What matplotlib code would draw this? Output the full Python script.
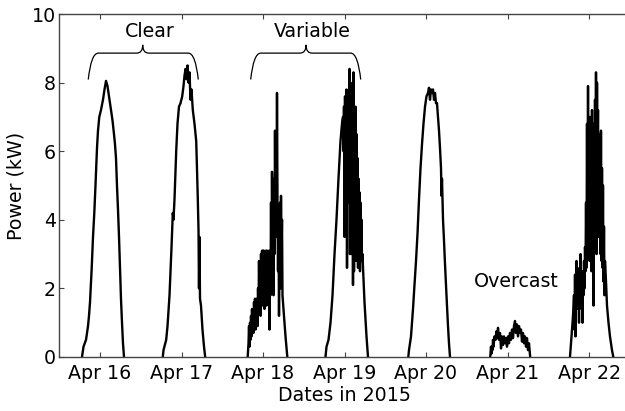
import matplotlib
matplotlib.use("Agg")
import matplotlib.pyplot as plt
from matplotlib.path import Path
from matplotlib.patches import PathPatch

# Tick labels (one per day)
day_labels = ["Apr 16", "Apr 17", "Apr 18", "Apr 19", "Apr 20", "Apr 21", "Apr 22"]

# Power readings per day: hours relative to midnight, power in kW
apr16_h = [-5.30, -4.86, -4.12, -3.53, -3.24, -2.94, -2.44, -2.06, -1.68, -1.33, -0.88, -0.59,
           -0.21, 0.29, 0.88, 1.33, 1.77, 2.21, 2.65, 3.24, 3.68, 4.12, 4.42, 4.71, 5.00, 5.30,
           5.60, 5.89, 6.18, 6.48, 6.77, 7.07]
apr16_kw = [0, 0.3, 0.5, 0.9, 1.2, 1.6, 2.6, 3.5, 4.2, 5.0, 6.1, 6.6,
            7.0, 7.2, 7.5, 7.8, 8.05, 7.9, 7.6, 7.2, 6.9, 6.5, 6.2, 5.8, 5.0, 4.3,
            3.5, 2.6, 1.7, 1.0, 0.4, 0]

apr17_h = [-5.51, -5.30, -4.51, -4.12, -3.53, -2.94, -2.56, -2.36, -2.06, -1.56, -1.18, -0.74,
           -0.29, 0.21, 0.59, 0.88, 1.18, 1.47, 1.77, 2.06, 2.36, 2.65, 2.94, 3.33, 3.83, 4.33,
           4.56, 4.80, 5.01, 5.15, 5.30, 5.45, 5.74, 6.18, 6.63, 6.98]
apr17_kw = [0, 0.2, 0.5, 0.9, 1.8, 3.2, 4.2, 4.0, 4.6, 6.0, 6.8, 7.3,
            7.4, 7.6, 7.9, 8.2, 8.4, 8.1, 8.5, 8.0, 8.3, 7.5, 7.8, 7.2, 6.8, 6.3,
            5.5, 4.6, 3.7, 2.0, 3.5, 1.7, 1.5, 0.8, 0.3, 0]

apr18_h = [-4.51, -4.27, -4.12, -3.98, -3.83, -3.68, -3.53, -3.39, -3.24, -3.09, -2.94, -2.80,
           -2.65, -2.50, -2.36, -2.21, -2.06, -1.91, -1.77, -1.62, -1.47, -1.33, -1.18, -1.03,
           -0.88, -0.74, -0.59, -0.44, -0.29, -0.15, 0.00, 0.15, 0.29, 0.44, 0.59, 0.74, 0.88,
           1.03, 1.18, 1.33, 1.47, 1.62, 1.77, 1.91, 2.06, 2.21, 2.36, 2.50, 2.65, 2.80, 2.94,
           3.09, 3.24, 3.39, 3.53, 3.68, 3.83, 3.98, 4.12, 4.27, 4.42, 4.56, 4.71, 4.86, 5.01,
           5.15, 5.30, 5.45, 5.60, 5.74, 6.18, 6.63, 7.16]
apr18_kw = [0, 0.4, 0.9, 0.3, 1.0, 0.5, 1.2, 0.6, 1.4, 0.8, 1.3, 0.7,
            1.6, 1.0, 1.7, 0.8, 1.5, 1.1, 1.7, 0.9, 2.0, 1.3, 2.8, 1.6,
            2.5, 1.2, 3.0, 2.0, 3.1, 1.5, 3.1, 2.2, 3.1, 1.4, 3.0, 2.4, 3.1,
            1.5, 3.1, 2.0, 2.9, 1.6, 3.1, 0.8, 2.5, 1.8, 4.5, 2.0, 5.4, 3.0, 5.2,
            1.8, 5.0, 3.0, 6.6, 4.0, 6.2, 3.5, 7.7, 4.5, 2.5, 4.2, 1.2, 3.0, 4.5,
            2.0, 4.7, 3.0, 4.0, 1.8, 1.2, 0.6, 0]

apr19_h = [-5.60, -5.30, -4.71, -4.12, -3.53, -2.94, -2.36, -1.77, -1.18, -0.74, -0.44, -0.29,
           -0.15, 0.00, 0.15, 0.29, 0.44, 0.59, 0.74, 0.88, 1.03, 1.18, 1.33, 1.47, 1.62, 1.77,
           1.91, 2.06, 2.21, 2.36, 2.50, 2.65, 2.80, 2.94, 3.09, 3.24, 3.39, 3.53, 3.68, 3.83,
           3.98, 4.12, 4.27, 4.42, 4.56, 4.71, 4.86, 5.01, 5.15, 5.30, 5.45, 5.89, 6.48, 6.92]
apr19_kw = [0, 0.3, 0.5, 1.0, 1.8, 3.0, 4.0, 5.2, 6.3, 6.8, 7.0, 6.0,
            7.3, 3.5, 7.6, 5.0, 7.4, 7.8, 2.6, 7.5, 5.5, 7.7, 4.5, 8.4, 3.0, 8.0,
            6.0, 7.6, 3.0, 7.9, 2.1, 8.3, 2.5, 7.0, 4.0, 7.3, 2.8, 6.5, 3.5, 5.8,
            2.6, 5.2, 3.0, 4.8, 2.5, 4.5, 3.2, 4.0, 2.8, 3.0, 2.6, 1.6, 0.6, 0]

apr20_h = [-5.21, -5.01, -4.71, -4.42, -4.12, -3.83, -3.39, -2.94, -2.50, -2.06, -1.62, -1.18,
           -0.74, -0.29, 0.15, 0.59, 0.88, 1.18, 1.47, 1.77, 2.06, 2.36, 2.65, 2.94, 3.24, 3.53,
           3.83, 4.12, 4.42, 4.56, 4.71, 5.01, 5.30, 5.60, 5.89, 6.18, 6.48, 6.77, 7.07]
apr20_kw = [0, 0.2, 0.4, 0.6, 1.0, 1.4, 2.1, 2.8, 3.6, 4.6, 5.5, 6.2,
            6.8, 7.3, 7.6, 7.7, 7.85, 7.5, 7.8, 7.7, 7.8, 7.5, 7.7, 7.4, 7.4, 7.0,
            6.6, 6.1, 5.5, 4.7, 5.2, 4.0, 3.4, 2.7, 2.1, 1.5, 0.9, 0.4, 0]

apr21_h = [-5.09, -4.86, -4.71, -4.56, -4.42, -4.27, -4.12, -3.83, -3.53, -3.24, -2.94, -2.80,
           -2.50, -2.21, -1.91, -1.62, -1.33, -1.03, -0.74, -0.44, -0.15, 0.15, 0.44, 0.74, 1.03,
           1.33, 1.62, 1.91, 2.21, 2.50, 2.80, 3.09, 3.39, 3.68, 3.98, 4.27, 4.56, 4.86, 5.15,
           5.45, 5.74, 6.04, 6.33, 6.68]
apr21_kw = [0, 0.3, 0.1, 0.3, 0.2, 0.5, 0.3, 0.6, 0.5, 0.75, 0.55, 0.85,
            0.5, 0.7, 0.25, 0.6, 0.35, 0.6, 0.4, 0.55, 0.3, 0.6, 0.4, 0.7, 0.5,
            0.8, 0.55, 0.9, 1.05, 0.7, 0.95, 0.6, 0.9, 0.7, 0.8, 0.45, 0.7, 0.4, 0.6,
            0.3, 0.55, 0.2, 0.4, 0]

apr22_h = [-5.60, -5.15, -4.71, -4.42, -4.27, -4.12, -3.98, -3.83, -3.68, -3.53, -3.39, -3.24,
           -3.09, -2.94, -2.80, -2.65, -2.50, -2.36, -2.21, -2.06, -1.91, -1.77, -1.62, -1.47,
           -1.33, -1.18, -1.03, -0.88, -0.74, -0.59, -0.44, -0.29, -0.15, 0.00, 0.15, 0.29, 0.44,
           0.59, 0.74, 0.88, 1.03, 1.18, 1.33, 1.47, 1.62, 1.77, 1.91, 2.06, 2.21, 2.36, 2.50,
           2.65, 2.80, 2.94, 3.09, 3.24, 3.39, 3.53, 3.68, 3.83, 3.98, 4.12, 4.27, 4.42, 4.56,
           4.71, 5.01, 5.30, 5.74, 6.18, 6.77, 7.16]
apr22_kw = [0, 0.6, 1.2, 1.8, 0.8, 2.4, 0.6, 2.0, 2.8, 1.4, 2.5, 1.6,
            2.2, 1.0, 2.6, 1.5, 3.0, 2.0, 1.4, 2.5, 1.0, 2.2, 1.8, 2.8,
            2.0, 3.2, 2.5, 4.5, 2.6, 6.8, 3.0, 7.9, 3.5, 6.0, 2.8, 7.0, 3.5,
            6.2, 2.5, 7.2, 4.0, 6.8, 1.5, 5.0, 3.2, 7.5, 4.0, 8.3, 3.0, 8.0, 5.0,
            7.2, 3.5, 6.5, 4.0, 5.5, 3.0, 6.6, 2.8, 5.5, 2.6, 5.0, 2.2, 3.8, 1.8,
            2.8, 2.2, 1.5, 1.0, 0.6, 0.2, 0]

days_h = [apr16_h, apr17_h, apr18_h, apr19_h, apr20_h, apr21_h, apr22_h]
days_kw = [apr16_kw, apr17_kw, apr18_kw, apr19_kw, apr20_kw, apr21_kw, apr22_kw]

fig = plt.figure(figsize=(6.25, 4.11), dpi=100)
ax = fig.add_axes([0.0948, 0.1314, 0.9128, 0.8345])

for i, (hh, kw) in enumerate(zip(days_h, days_kw)):
    ax.plot([i + h / 24.0 for h in hh], kw, color="black", lw=1.7)

ax.set_xlim(-0.5, 6.5)
ax.set_ylim(0, 10)
ax.set_xticks(range(len(day_labels)))
ax.set_xticklabels(day_labels)
ax.set_yticks([0, 2, 4, 6, 8, 10])

for s in ax.spines.values():
    s.set_color("#444444")
    s.set_linewidth(1.0)
ax.tick_params(direction="in", length=3.5, color="#444444", labelsize=13.7,
               top=True, right=True)
ax.tick_params(axis="x", pad=5)
ax.tick_params(axis="y", pad=2.5)

ax.set_xlabel("Dates in 2015", fontsize=13.7)
ax.set_ylabel("Power (kW)", fontsize=13.7)
ax.xaxis.set_label_coords(0.5, -0.085)
ax.yaxis.set_label_coords(-0.060, 0.5)


# curly braces above the clear and variable days
def brace(x0, x1, xt, y_end=8.09, y_flat=8.86, y_tip=9.10):
    c = 0.123
    t = 0.074
    verts = [(x0, y_end), (x0 + 0.035, y_flat), (x0 + c, y_flat),
             (xt - t, y_flat), (xt, y_flat), (xt, y_tip),
             (xt, y_flat), (xt + t, y_flat),
             (x1 - c, y_flat), (x1 - 0.035, y_flat), (x1, y_end)]
    codes = [Path.MOVETO, Path.CURVE3, Path.CURVE3,
             Path.LINETO, Path.CURVE3, Path.CURVE3,
             Path.CURVE3, Path.CURVE3,
             Path.LINETO, Path.CURVE3, Path.CURVE3]
    ax.add_patch(PathPatch(Path(verts, codes), fill=False, lw=0.9, color="black"))


brace(-0.144, 1.206, 0.524)
brace(1.849, 3.199, 2.528)

ax.text(0.613, 9.48, "Clear", fontsize=13.7, ha="center", va="center")
ax.text(2.61, 9.48, "Variable", fontsize=13.7, ha="center", va="center")
ax.text(5.113, 2.2, "Overcast", fontsize=13.7, ha="center", va="center")

fig.savefig("out.png", dpi=100)
